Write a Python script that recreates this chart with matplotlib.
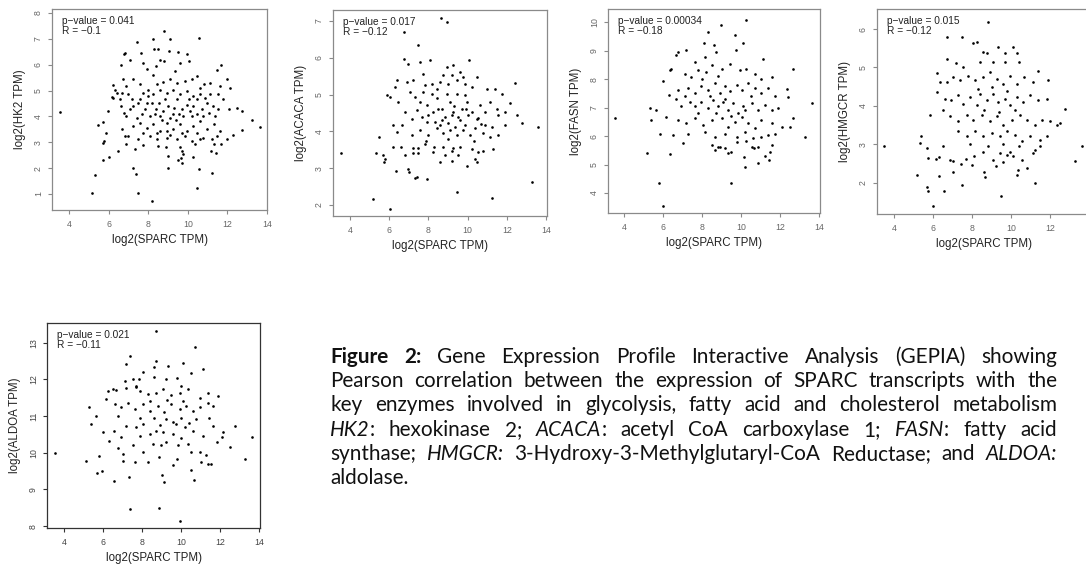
import matplotlib
matplotlib.use("Agg")
import matplotlib.pyplot as plt

# ---------------- data (log2 SPARC TPM, log2 gene TPM) ----------------
hk2_pts = [
    (3.53, 4.17), (8.80, 7.31), (10.59, 7.04), (7.41, 6.87), (8.26, 7.0), (9.1, 6.98), (8.29, 6.59),
    (8.5, 6.59), (6.82, 6.46), (6.79, 6.4), (7.63, 6.44), (9.07, 6.52), (9.52, 6.5), (9.98, 6.4),
    (10.07, 6.14), (8.6, 6.2), (8.8, 6.14), (7.1, 6.18), (6.65, 5.97), (7.75, 6.07), (9.6, 6.07),
    (9.35, 5.75), (7.92, 5.82), (8.4, 5.94), (8.25, 5.62), (11.7, 5.97), (11.45, 5.78), (12.0, 5.43),
    (12.15, 5.11), (11.65, 5.17), (11.13, 5.3), (10.8, 5.24), (10.6, 5.11), (6.23, 5.2), (6.32, 5.02),
    (6.4, 4.91), (6.15, 4.76), (6.23, 4.72), (6.73, 5.43), (6.9, 5.17), (7.24, 5.43), (7.58, 5.24),
    (8.0, 5.04), (8.43, 5.24), (8.76, 5.33), (9.1, 5.43), (9.44, 5.3), (9.86, 5.37), (10.2, 5.43),
    (10.45, 5.56), (6.57, 4.66), (6.65, 4.42), (6.77, 4.14), (6.9, 4.01), (5.98, 4.21), (5.47, 3.65),
    (5.72, 3.78), (5.86, 3.37), (5.75, 3.05), (7.24, 4.4), (7.58, 4.66), (7.83, 4.27), (8.17, 4.53),
    (8.41, 4.27), (8.6, 4.01), (8.85, 4.66), (9.0, 4.4), (9.24, 4.08), (9.44, 4.66), (9.7, 4.27),
    (9.95, 4.46), (10.2, 4.01), (10.45, 4.66), (10.7, 4.27), (10.96, 4.53), (11.26, 4.4), (11.55, 4.27),
    (11.8, 4.66), (12.06, 4.27), (12.48, 4.33), (12.73, 4.2), (13.24, 3.88), (13.63, 3.6), (12.73, 3.47),
    (12.3, 3.3), (11.97, 3.14), (7.24, 3.63), (7.58, 3.76), (7.92, 3.56), (8.26, 3.69), (8.6, 3.43),
    (8.93, 3.76), (9.27, 3.5), (9.6, 3.69), (9.95, 3.43), (10.28, 3.63), (10.62, 3.82), (10.96, 3.5),
    (11.3, 3.69), (11.64, 3.43), (6.99, 3.24), (7.5, 3.11), (8.09, 3.24), (8.43, 3.11), (8.93, 3.18),
    (9.44, 3.11), (9.86, 3.24), (10.2, 3.05), (10.79, 3.18), (11.21, 3.11), (11.47, 3.24),
    (5.18, 1.03), (5.3, 1.74), (5.72, 2.32), (6.03, 2.42), (5.74, 2.96), (6.48, 2.66), (7.21, 2.01),
    (7.38, 1.78), (7.5, 1.03), (8.17, 0.71), (6.9, 2.92), (7.32, 2.75), (7.75, 2.88), (8.5, 2.86),
    (8.9, 2.83), (8.98, 2.0), (9.0, 2.45), (9.6, 2.8), (9.72, 2.66), (9.68, 2.4), (9.72, 2.2),
    (9.77, 2.53), (9.5, 2.3), (10.25, 2.42), (10.37, 2.92), (10.55, 1.96), (10.47, 1.22), (11.22, 1.82),
    (11.18, 2.66), (11.4, 2.58), (11.3, 2.92), (11.7, 2.92),
    (7.75, 4.91), (8.0, 4.79), (8.26, 4.85), (8.6, 5.04), (8.93, 4.91), (9.27, 5.04), (9.6, 4.85),
    (9.95, 4.98), (10.28, 4.79), (10.62, 4.85), (7.67, 4.08), (8.09, 4.01), (8.34, 4.08), (8.76, 4.21),
    (9.1, 3.95), (9.4, 3.88), (9.77, 4.01), (10.12, 4.21), (10.45, 4.08), (10.79, 4.01), (11.05, 4.14),
    (11.38, 4.01), (7.41, 3.95), (7.07, 4.27), (7.16, 4.66), (7.5, 4.53), (7.92, 4.53), (8.55, 4.53),
    (8.72, 3.88), (8.93, 3.43), (9.3, 4.33), (9.55, 4.08), (10.07, 4.66), (10.28, 4.4), (10.87, 4.72),
    (11.13, 4.85), (11.55, 4.85), (6.7, 4.91), (6.99, 4.88), (6.7, 3.5), (6.82, 3.24), (7.75, 3.37),
    (8.43, 3.37), (9.1, 3.3), (9.7, 3.37), (10.45, 3.37), (10.62, 3.11),
]

acaca_pts = [
    (8.63, 7.09), (8.93, 6.97), (6.76, 6.7), (7.45, 6.34), (6.76, 5.98), (6.98, 5.84), (7.57, 5.89),
    (8.08, 5.93), (8.93, 5.75), (9.27, 5.8), (10.09, 5.95), (9.6, 5.62), (6.38, 5.39), (6.3, 5.21),
    (5.87, 4.98), (6.04, 4.94), (6.46, 4.8), (6.89, 5.35), (7.23, 5.39), (7.74, 5.57), (8.17, 5.3),
    (8.59, 5.35), (9.01, 5.3), (9.44, 5.39), (9.87, 5.3), (10.46, 5.48), (10.2, 5.21), (10.97, 5.16),
    (11.4, 5.16), (12.42, 5.31), (11.74, 5.03), (12.16, 4.76), (12.5, 4.44), (12.76, 4.22), (13.61, 4.13),
    (11.9, 4.54), (11.9, 4.18), (11.57, 4.44), (11.22, 4.13), (10.88, 4.18), (10.54, 4.37), (6.21, 4.17),
    (6.38, 3.99), (6.64, 4.17), (6.81, 4.53), (7.16, 4.35), (7.4, 4.58), (7.66, 4.4), (7.91, 4.72),
    (8.25, 4.53), (8.42, 4.9), (8.68, 4.62), (8.85, 4.4), (9.1, 4.8), (9.27, 4.53), (9.53, 4.4),
    (9.7, 4.62), (9.95, 4.8), (10.2, 4.53), (10.46, 4.35), (10.63, 4.72), (10.88, 4.53), (11.14, 4.8),
    (11.48, 4.62), (5.46, 3.86), (7.15, 3.9), (7.57, 4.04), (8.0, 3.9), (8.42, 4.08), (8.76, 3.95),
    (9.1, 4.04), (9.44, 3.9), (9.78, 4.04), (10.12, 3.9), (10.37, 4.08), (10.8, 3.95), (11.14, 3.86),
    (11.56, 3.9), (7.91, 4.26), (8.34, 4.26), (8.59, 4.17), (9.01, 4.22), (9.35, 4.13), (9.6, 4.31),
    (9.87, 4.17), (9.18, 4.44), (8.93, 5.03), (9.44, 5.03), (9.87, 4.98), (8.17, 5.03), (7.74, 5.07),
    (7.32, 4.94), (7.06, 5.07), (7.57, 4.8), (8.42, 5.16), (8.76, 5.53), (9.18, 5.53), (9.78, 5.48),
    (7.83, 5.25),
    (3.54, 3.42), (5.19, 2.16), (6.04, 1.89), (5.33, 3.41), (5.7, 3.35), (5.74, 3.16), (5.8, 3.25),
    (6.18, 3.57), (6.59, 3.57), (6.35, 2.91), (6.81, 3.35), (6.95, 2.98), (7.01, 2.89), (7.32, 2.74),
    (7.4, 2.77), (7.91, 2.71), (7.23, 3.56), (7.23, 3.41), (7.49, 3.56), (7.49, 3.41), (8.28, 3.57),
    (8.59, 3.16), (8.85, 3.35), (9.19, 3.19), (9.27, 3.56), (9.19, 3.47), (9.48, 2.35), (9.53, 3.35),
    (9.95, 3.07), (10.2, 3.53), (10.37, 3.25), (10.46, 3.16), (10.54, 3.44), (11.26, 2.2), (11.31, 3.53),
    (13.27, 2.62), (10.8, 3.48), (9.61, 3.57), (8.76, 3.57), (8.25, 3.44), (7.83, 3.66),
    (8.5, 4.6), (8.0, 4.45), (9.3, 4.7), (10.0, 4.45), (8.7, 4.3), (9.9, 4.6), (10.7, 4.2),
    (7.9, 3.75), (9.0, 3.8), (10.3, 3.75),
]

fasn_pts = [
    (3.55, 6.62), (10.25, 10.09), (8.95, 9.89), (8.32, 9.66), (9.68, 9.54), (8.11, 9.25), (8.62, 9.19),
    (10.11, 9.25), (6.77, 8.96), (6.68, 8.85), (7.2, 9.02), (8.73, 8.96), (9.76, 9.02), (11.14, 8.69),
    (12.68, 8.37), (7.62, 8.6), (8.13, 8.78), (6.43, 8.37), (6.34, 8.31), (6.0, 7.95), (6.29, 7.45),
    (7.12, 8.19), (7.46, 8.07), (7.8, 8.31), (8.23, 8.25), (8.49, 8.49), (9.0, 8.37), (9.43, 8.54),
    (9.94, 8.31), (10.28, 8.37), (10.71, 8.19), (11.05, 8.01), (11.57, 8.07), (12.34, 7.66), (12.42, 7.37),
    (13.62, 7.16), (12.68, 6.62), (12.51, 6.33), (13.28, 5.98), (6.77, 7.63), (6.68, 7.3), (6.94, 7.04),
    (7.12, 7.39), (7.29, 7.68), (7.63, 7.51), (7.97, 7.75), (8.32, 7.63), (8.66, 7.86), (8.91, 7.51),
    (9.17, 7.75), (9.43, 7.57), (9.77, 7.81), (10.03, 7.63), (10.37, 7.86), (10.71, 7.68), (11.05, 7.51),
    (11.4, 7.68), (11.74, 7.39), (7.63, 7.04), (7.97, 7.21), (8.32, 6.98), (8.58, 7.27), (8.83, 7.04),
    (9.08, 7.21), (9.34, 6.92), (9.6, 7.16), (9.86, 6.8), (10.11, 7.04), (10.54, 7.16), (10.88, 6.92),
    (11.23, 7.1), (11.57, 6.92), (11.91, 6.98), (5.32, 6.98), (5.66, 6.92), (5.4, 6.56), (6.17, 6.68),
    (5.83, 6.09), (6.51, 6.04), (6.77, 6.56), (7.2, 6.45), (7.63, 6.62), (8.06, 6.39), (8.49, 6.56),
    (9.0, 6.62), (9.34, 6.33), (9.68, 6.51), (10.03, 6.68), (10.37, 6.45), (10.71, 6.27), (11.05, 6.56),
    (11.57, 6.45), (12.08, 6.33), (11.74, 6.09), (11.4, 6.04), (7.29, 6.09), (8.14, 6.15), (8.66, 5.98),
    (9.17, 6.09), (9.77, 5.98), (10.2, 6.15), (10.63, 5.92), (11.05, 5.98),
    (5.2, 5.41), (6.35, 5.36), (5.78, 4.34), (6.0, 3.53), (7.03, 5.76), (8.49, 5.67), (8.66, 5.51),
    (8.83, 5.63), (8.92, 5.6), (9.17, 5.58), (9.31, 5.4), (9.51, 5.43), (9.48, 4.36), (9.77, 5.78),
    (10.16, 5.28), (10.19, 4.91), (10.28, 5.82), (10.54, 5.63), (10.68, 5.58), (10.85, 5.06), (10.88, 5.6),
    (11.23, 5.31), (11.43, 5.16), (11.57, 5.7), (11.48, 5.43),
    (8.0, 8.0), (8.4, 7.4), (8.8, 8.1), (9.2, 7.3), (7.8, 6.8), (8.7, 6.8), (9.5, 6.7), (10.2, 6.9),
    (10.5, 7.4), (7.4, 7.2),
]

hmgcr_pts = [
    (8.84, 6.19), (6.7, 5.78), (7.47, 5.8), (8.07, 5.63), (8.24, 5.67), (8.58, 5.41), (8.75, 5.37),
    (9.35, 5.54), (10.09, 5.54), (10.29, 5.37), (9.69, 5.37), (6.74, 5.23), (7.2, 5.11), (7.56, 5.02),
    (8.41, 5.15), (9.09, 5.15), (9.69, 5.15), (10.43, 5.15), (11.4, 4.9), (6.22, 4.86), (6.36, 4.62),
    (6.7, 4.62), (7.04, 4.75), (7.38, 4.67), (7.81, 4.79), (8.16, 4.67), (8.55, 4.75), (8.92, 4.88),
    (9.26, 4.71), (9.57, 4.58), (9.94, 4.79), (10.29, 4.58), (10.66, 4.75), (11.14, 4.62), (11.91, 4.67),
    (6.22, 4.36), (6.62, 4.19), (5.85, 3.77), (6.53, 3.9), (6.91, 4.15), (7.3, 4.28), (7.56, 4.06),
    (7.9, 4.23), (8.24, 4.02), (8.41, 4.32), (8.75, 4.15), (9.09, 4.32), (9.35, 4.1), (9.69, 4.19),
    (9.94, 4.02), (10.29, 4.23), (10.63, 4.1), (10.97, 4.28), (11.4, 4.15), (11.83, 4.19), (12.77, 3.93),
    (6.87, 3.73), (7.3, 3.6), (7.72, 3.77), (8.07, 3.64), (8.5, 3.77), (8.92, 3.6), (9.26, 3.73),
    (9.6, 3.51), (10.03, 3.64), (10.46, 3.77), (10.8, 3.64), (11.23, 3.51), (11.57, 3.64), (12.0, 3.6),
    (12.38, 3.51), (12.52, 3.56), (7.27, 3.34), (7.72, 3.21), (8.16, 3.34), (8.58, 3.21), (9.01, 3.3),
    (9.43, 3.21), (9.78, 3.34), (10.21, 3.25), (10.55, 3.08), (10.97, 3.21), (11.49, 3.12), (11.83, 3.21),
    (5.37, 3.21), (5.33, 3.04), (6.53, 2.95), (13.62, 2.95),
    (3.5, 2.96), (5.68, 2.9), (5.76, 2.64), (6.16, 2.62), (6.33, 2.67), (5.16, 2.2), (6.33, 2.18),
    (5.68, 1.89), (5.73, 1.8), (6.57, 1.8), (6.02, 1.39), (7.0, 2.27), (7.47, 1.95), (6.87, 2.6),
    (7.04, 2.56), (7.42, 2.5), (7.69, 2.62), (7.98, 2.47), (8.11, 2.69), (8.58, 2.79), (8.62, 2.29),
    (8.67, 2.14), (9.09, 2.6), (9.21, 2.45), (9.43, 2.77), (9.57, 2.53), (9.78, 2.73), (9.95, 2.79),
    (10.12, 2.69), (10.29, 2.21), (10.38, 2.34), (10.55, 2.6), (9.48, 1.66), (10.84, 2.38), (11.23, 1.99),
    (11.23, 2.86), (11.14, 2.77), (11.49, 2.96), (13.29, 2.56),
    (8.3, 4.45), (9.0, 4.5), (9.8, 4.4), (8.6, 3.9), (9.4, 3.85), (10.2, 3.9), (7.9, 3.0), (8.8, 2.95),
    (9.6, 3.0), (10.4, 2.95),
]

aldoa_pts = [
    (8.74, 13.33), (10.7, 12.88), (7.37, 12.63), (7.2, 12.41), (8.74, 12.5), (10.1, 12.44), (8.6, 12.35),
    (9.33, 12.36), (11.13, 12.28), (10.53, 12.19), (8.05, 12.2), (7.54, 12.02), (7.11, 11.96), (7.84, 12.02),
    (8.6, 12.07), (9.25, 12.02), (9.77, 12.05), (10.02, 11.81), (7.71, 11.83), (7.68, 11.8), (7.2, 11.77),
    (6.68, 11.7), (6.26, 11.69), (6.5, 11.73), (7.88, 11.69), (8.3, 11.6), (8.74, 11.64), (9.08, 11.73),
    (9.5, 11.57), (9.94, 11.64), (10.36, 11.73), (10.96, 11.5), (11.38, 11.64), (11.9, 11.55), (11.38, 11.37),
    (5.28, 11.26), (5.65, 11.0), (6.17, 11.46), (6.6, 11.33), (6.94, 11.24), (7.28, 11.37), (7.62, 11.19),
    (8.05, 11.33), (8.39, 11.15), (8.8, 11.28), (9.14, 11.1), (9.5, 11.33), (9.94, 11.19), (10.28, 11.28),
    (10.62, 11.15), (10.96, 11.24), (11.64, 11.28), (6.77, 11.01), (7.88, 10.96), (8.6, 10.96), (9.25, 10.92),
    (10.02, 10.96), (10.79, 10.92), (11.44, 10.96),
    (3.52, 10.0), (5.15, 9.78), (5.4, 10.79), (5.78, 9.9), (5.71, 9.46), (5.97, 9.5), (6.0, 10.56),
    (6.31, 10.31), (6.56, 9.23), (6.56, 10.6), (6.77, 10.13), (6.94, 10.43), (7.03, 9.97), (7.03, 9.79),
    (7.38, 8.47), (7.33, 9.34), (7.54, 10.2), (7.66, 9.75), (7.2, 10.74), (7.88, 10.47), (8.05, 10.02),
    (8.3, 9.75), (8.55, 10.25), (8.72, 10.6), (8.89, 9.88), (9.05, 9.39), (9.14, 9.2), (8.86, 8.49),
    (9.59, 9.66), (9.8, 9.84), (9.93, 8.13), (9.25, 10.29), (9.59, 10.51), (9.84, 10.2), (10.19, 10.7),
    (10.36, 10.25), (10.53, 10.02), (10.67, 9.26), (10.53, 9.52), (10.96, 10.02), (11.05, 9.75), (11.3, 9.93),
    (11.4, 9.7), (11.56, 9.7), (11.82, 10.29), (12.12, 10.43), (12.49, 10.16), (12.75, 10.74), (13.65, 10.43),
    (13.27, 9.84), (11.64, 10.74), (12.16, 10.56), (8.05, 10.79), (8.39, 10.51), (9.08, 10.56), (9.76, 10.79),
    (10.62, 10.6), (11.13, 10.47), (7.71, 10.7),
    (8.4, 11.4), (9.3, 11.45), (10.1, 11.4), (8.9, 10.75), (9.6, 10.85), (10.4, 10.8), (9.0, 10.2),
    (10.0, 10.4),
]

genes = ["HK2", "ACACA", "FASN", "HMGCR", "ALDOA"]
p_values = ["0.041", "0.017", "0.00034", "0.015", "0.021"]
r_values = ["\u22120.1", "\u22120.12", "\u22120.18", "\u22120.12", "\u22120.11"]
x_ticks = [4, 6, 8, 10, 12, 14]
y_ticks = [list(range(1, 9)), list(range(2, 8)), list(range(4, 11)), list(range(2, 7)), list(range(8, 14))]
points = [hk2_pts, acaca_pts, fasn_pts, hmgcr_pts, aldoa_pts]

# caption lines: (text, style) runs, style n/b/i
caption = [
    [("Figure 2:", "b"), (" Gene Expression Profile Interactive Analysis (GEPIA) showing", "n")],
    [("Pearson correlation between the expression of SPARC transcripts with the", "n")],
    [("key enzymes involved in glycolysis, fatty acid and cholesterol metabolism", "n")],
    [("HK2", "i"), (": hexokinase 2; ", "n"), ("ACACA", "i"), (": acetyl CoA carboxylase 1; ", "n"),
     ("FASN", "i"), (": fatty acid", "n")],
    [("synthase; ", "n"), ("HMGCR:", "i"), (" 3-Hydroxy-3-Methylglutaryl-CoA Reductase; and ", "n"),
     ("ALDOA:", "i")],
    [("aldolase.", "n")],
]

# ---------------- layout (pixels) ----------------
W, H = 1086, 567
boxes = [(52, 9, 267, 210), (333, 10, 547, 216), (608, 9, 820, 213), (877, 9, 1092, 214), (47, 323, 260, 528)]
xlims = [(3.14, 14.0), (3.13, 14.05), (3.18, 14.05), (3.13, 14.15), (3.13, 14.05)]
ylims = [(0.38, 8.155), (1.7, 7.3), (3.3, 10.46), (1.19, 6.52), (7.95, 13.54)]

fig = plt.figure(figsize=(W / 100, H / 100), dpi=100)
rfont = "Liberation Sans"

for i, gene in enumerate(genes):
    l, t, r, b = boxes[i]
    ax = fig.add_axes([l / W, 1 - b / H, (r - l) / W, (b - t) / H])
    xs = [p[0] for p in points[i]]
    ys = [p[1] for p in points[i]]
    ax.scatter(xs, ys, s=3.6, c="black", linewidths=0)
    ax.set_xlim(*xlims[i])
    ax.set_ylim(*ylims[i])
    # last panel on the top row runs off the page, so its 14 is not shown
    ax.set_xticks([v for v in x_ticks if not (i == 3 and v == 14)])
    ax.set_yticks(y_ticks[i])
    box_col = "#333333" if i == 4 else "#8a8a8a"
    lab_col = "#444444" if i == 4 else "#666666"
    for sp in ax.spines.values():
        sp.set_color(box_col)
        sp.set_linewidth(0.9)
    ax.tick_params(direction="out", length=3, width=0.8, color=box_col, labelcolor=lab_col, labelsize=6.3)
    ax.tick_params(axis="x", pad=4.5)
    ax.tick_params(axis="y", labelrotation=90, pad=3.5)
    for lab in ax.get_xticklabels() + ax.get_yticklabels():
        lab.set_family(rfont)
    for lab in ax.get_yticklabels():
        lab.set_va("center")
    ax.set_xlabel("log2(SPARC TPM)", fontsize=8.3, family=rfont, color="#222222")
    ax.xaxis.set_label_coords(0.5, -24 / (b - t))
    ax.set_ylabel(f"log2({gene} TPM)", fontsize=8.3, family=rfont, color="#222222")
    ax.yaxis.set_label_coords(-26 / (r - l), 0.5)
    ax.text(10 / (r - l), 1 - 7 / (b - t), f"p\u2212value = {p_values[i]}\nR = {r_values[i]}",
            transform=ax.transAxes, ha="left", va="top", fontsize=7.3, family=rfont,
            color="#222222", linespacing=1.0)

# ---------------- justified caption ----------------
cap_font = "Lato"
left_px, right_px = 330, 1057
base0, lead = 363, 24.2
styles = {"n": {}, "b": {"weight": "bold"}, "i": {"style": "italic"}}

renderer = fig.canvas.get_renderer()


def measure(txt, st, size):
    tt = fig.text(0, 0, txt, fontsize=size, family=cap_font, **styles[st])
    w = tt.get_window_extent(renderer).width
    tt.remove()
    return w


def split_words(runs):
    words = [[]]
    for txt, st in runs:
        parts = txt.split(" ")
        for k, part in enumerate(parts):
            if k > 0:
                words.append([])
            if part:
                words[-1].append((part, st))
    return [w for w in words if w]


# pick the size so that the longest line nearly fills the column with plain spaces
probe = 13.0
sp_probe = measure("a a", "n", probe) - measure("aa", "n", probe)
natural = []
for runs in caption[:-1]:
    words = split_words(runs)
    natural.append(sum(measure(s, st, probe) for w in words for s, st in w) + sp_probe * (len(words) - 1))
cap_size = min(16.5, probe * 0.96 * (right_px - left_px) / max(natural))

space_w = measure("a a", "n", cap_size) - measure("aa", "n", cap_size)
for li, runs in enumerate(caption):
    words = split_words(runs)
    widths = [sum(measure(s, st, cap_size) for s, st in w) for w in words]
    last = li == len(caption) - 1
    if last or len(words) < 2:
        gap = space_w
    else:
        gap = (right_px - left_px - sum(widths)) / (len(words) - 1)
    x = left_px
    y = 1 - (base0 + li * lead) / H
    for w, ww in zip(words, widths):
        xx = x
        for s, st in w:
            fig.text(xx / W, y, s, fontsize=cap_size, family=cap_font, va="baseline", ha="left",
                     color="#111111", **styles[st])
            xx += measure(s, st, cap_size)
        x += ww + gap

fig.savefig("out.png", dpi=100)
